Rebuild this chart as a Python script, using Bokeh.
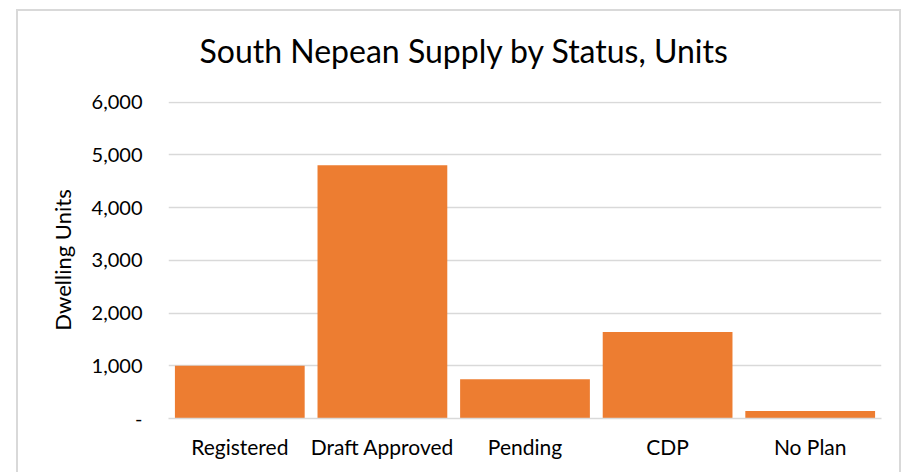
from bokeh.plotting import figure
from bokeh.models import Range1d, FactorRange, FixedTicker, ColumnDataSource, Title
from bokeh.embed import file_html
from bokeh.resources import INLINE

# ---- data ----
categories = ["Registered", "Draft Approved", "Pending", "CDP", "No Plan"]
units = [1000, 4800, 745, 1640, 140]
y_ticks = [0, 1000, 2000, 3000, 4000, 5000, 6000]
y_tick_labels = ["-", "1,000", "2,000", "3,000", "4,000", "5,000", "6,000"]
title_text = "South Nepean Supply by Status, Units"
y_title = "Dwelling Units"

FONT = "Lato"
BAR = "#ED7D31"
GRID = "#D9D9D9"

src = ColumnDataSource(dict(cat=categories, val=units))

p = figure(
    width=881, height=461,
    x_range=FactorRange(*categories, range_padding=0),
    y_range=Range1d(0, 6010),
    output_backend="svg", toolbar_location=None,
    min_border_left=150, min_border_right=18, min_border_bottom=54, min_border_top=90,
)
p.styles = {"margin-left": "18px", "margin-top": "11px", "outline": "2px solid #D9D9D9"}
p.outline_line_color = None
p.background_fill_color = "white"
p.border_fill_color = "white"

p.vbar(x="cat", top="val", width=0.91, source=src, fill_color=BAR, line_color=None)

# spacer title next to the plot area, main title above it
spacer = Title(text=" ", text_font_size="2px", standoff=10, text_color="white")
p.add_layout(spacer, "above")
main_title = Title(text=title_text, align="left", offset=31, standoff=35,
                   text_font=FONT, text_font_size="32px", text_font_style="normal",
                   text_color="#000000")
p.add_layout(main_title, "above")

# y axis
p.yaxis.ticker = FixedTicker(ticks=y_ticks)
p.yaxis.major_label_overrides = {t: l for t, l in zip(y_ticks, y_tick_labels)}
p.yaxis.axis_line_color = None
p.yaxis.major_tick_line_color = None
p.yaxis.minor_tick_line_color = None
p.yaxis.major_label_standoff = 20
p.yaxis.major_label_text_font = FONT
p.yaxis.major_label_text_font_size = "20px"
p.yaxis.major_label_text_color = "#000000"
p.yaxis.axis_label = y_title
p.yaxis.axis_label_text_font = FONT
p.yaxis.axis_label_text_font_size = "22px"
p.yaxis.axis_label_text_font_style = "normal"
p.yaxis.axis_label_text_color = "#000000"
p.yaxis.axis_label_standoff = 13

# x axis
p.xaxis.axis_line_color = GRID
p.xaxis.axis_line_width = 1.5
p.xaxis.major_tick_line_color = None
p.xaxis.minor_tick_line_color = None
p.xaxis.major_label_standoff = 9
p.xaxis.major_label_text_font = FONT
p.xaxis.major_label_text_font_size = "21px"
p.xaxis.major_label_text_color = "#000000"

# grid
p.xgrid.grid_line_color = None
p.ygrid.grid_line_color = GRID
p.ygrid.grid_line_width = 1.5

open("out.html", "w").write(file_html(p, INLINE))
